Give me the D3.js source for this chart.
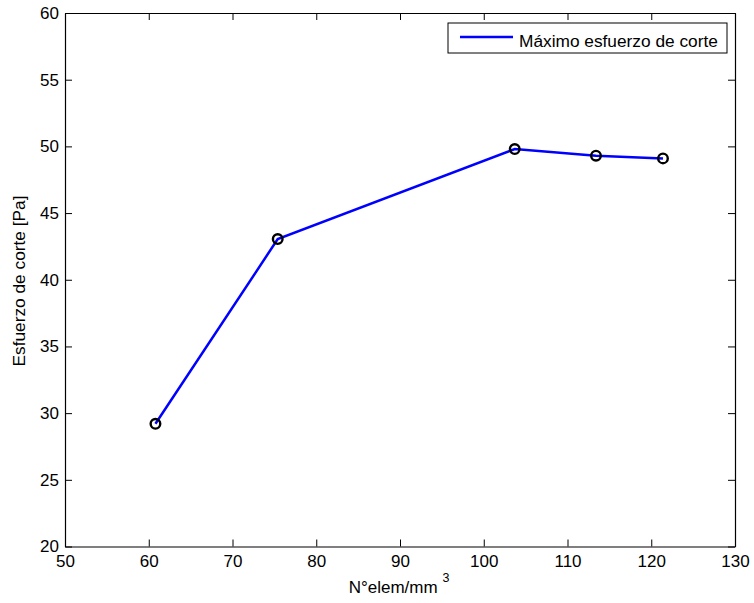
<!DOCTYPE html>
<html>
<head>
<meta charset="utf-8">
<script src="https://cdn.jsdelivr.net/npm/d3@7"></script>
<style>
  body { margin: 0; background: #fff; }
  text { font-family: "Liberation Sans", Arial, sans-serif; }
</style>
</head>
<body>
<svg width="754" height="603"></svg>
<script>
// dades del grafic
var elemDensitat = [60.8, 75.4, 103.7, 113.4, 121.4];
var esforcMax = [29.2, 43.05, 49.8, 49.3, 49.1];
var xTicks = [50, 60, 70, 80, 90, 100, 110, 120, 130];
var yTicks = [20, 25, 30, 35, 40, 45, 50, 55, 60];
var nomSerie = "Máximo esfuerzo de corte";

var svg = d3.select("svg");
var esq = 65, dreta = 735, dalt = 13, baix = 546.5;
var midaTick = 7;

var x = d3.scaleLinear().domain([50, 130]).range([esq, dreta]);
var y = d3.scaleLinear().domain([20, 60]).range([baix, dalt]);

// eixos amb ticks cap a dins, estil matlab
svg.append("g").attr("transform", `translate(0,${baix})`)
  .call(d3.axisBottom(x).tickValues(xTicks).tickSizeInner(-midaTick).tickSizeOuter(0).tickPadding(8.5));
svg.append("g").attr("transform", `translate(${esq},0)`)
  .call(d3.axisLeft(y).tickValues(yTicks).tickSizeInner(-midaTick).tickSizeOuter(0).tickPadding(6));
svg.append("g").attr("transform", `translate(0,${dalt})`)
  .call(d3.axisTop(x).tickValues(xTicks).tickSizeInner(-midaTick).tickSizeOuter(0).tickFormat(""));
svg.append("g").attr("transform", `translate(${dreta},0)`)
  .call(d3.axisRight(y).tickValues(yTicks).tickSizeInner(-midaTick).tickSizeOuter(0).tickFormat(""));

svg.selectAll(".domain").attr("stroke", "#000").attr("stroke-width", 1.2);
svg.selectAll(".tick line").attr("stroke", "#000");
svg.selectAll(".tick text").style("font-size", "17px").attr("fill", "#000")
  .style("font-family", "'Liberation Sans', Arial, sans-serif");

// linia
var punts = elemDensitat.map((d, i) => [d, esforcMax[i]]);
svg.append("path")
  .datum(punts)
  .attr("fill", "none")
  .attr("stroke", "#0000ff")
  .attr("stroke-width", 2.5)
  .attr("d", d3.line().x(d => x(d[0])).y(d => y(d[1])));

svg.selectAll("circle.punt")
  .data(punts)
  .enter().append("circle")
  .attr("class", "punt")
  .attr("cx", d => x(d[0]))
  .attr("cy", d => y(d[1]))
  .attr("r", 4.8)
  .attr("fill", "none")
  .attr("stroke", "#000")
  .attr("stroke-width", 2.4);

// llegenda
svg.append("rect")
  .attr("x", 448).attr("y", 23).attr("width", 279).attr("height", 30)
  .attr("fill", "#fff").attr("stroke", "#000").attr("stroke-width", 1);
svg.append("line")
  .attr("x1", 460).attr("x2", 513).attr("y1", 37).attr("y2", 37)
  .attr("stroke", "#0000ff").attr("stroke-width", 2.5);
svg.append("text")
  .attr("x", 519).attr("y", 46.5)
  .style("font-size", "17.3px")
  .text(nomSerie);

// titols dels eixos
var tx = svg.append("text")
  .attr("x", 399).attr("y", 593)
  .attr("text-anchor", "middle")
  .style("font-size", "17px");
tx.append("tspan").text("N°elem/mm ");
tx.append("tspan").attr("dy", -11).style("font-size", "12.5px").text("3");

svg.append("text")
  .attr("transform", "translate(25,281) rotate(-90)")
  .attr("text-anchor", "middle")
  .style("font-size", "17.3px")
  .text("Esfuerzo de corte [Pa]");
</script>
</body>
</html>
